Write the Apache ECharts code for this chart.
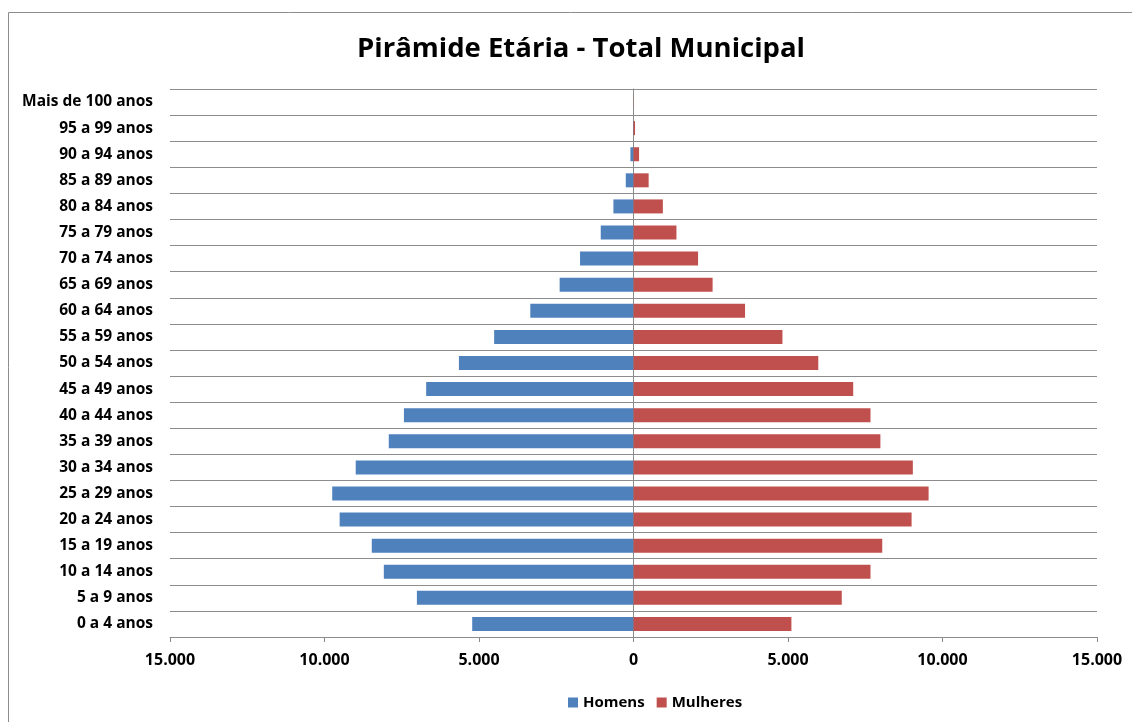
<!DOCTYPE html>
<html>
<head>
<meta charset="utf-8">
<script src="https://cdn.jsdelivr.net/npm/echarts@6/dist/echarts.min.js"></script>
<style>
  html, body { margin: 0; padding: 0; background: #fff; }
  #chart { width: 1132px; height: 722px; }
</style>
</head>
<body>
<div id="chart"></div>
<script>
// faixas etárias, de baixo para cima
var faixas = ['0 a 4 anos', '5 a 9 anos', '10 a 14 anos', '15 a 19 anos', '20 a 24 anos',
  '25 a 29 anos', '30 a 34 anos', '35 a 39 anos', '40 a 44 anos', '45 a 49 anos',
  '50 a 54 anos', '55 a 59 anos', '60 a 64 anos', '65 a 69 anos', '70 a 74 anos',
  '75 a 79 anos', '80 a 84 anos', '85 a 89 anos', '90 a 94 anos', '95 a 99 anos',
  'Mais de 100 anos']
// homens ficam negativos (lado esquerdo)
var homens = [-5220, -7010, -8080, -8470, -9510, -9750, -8990, -7920, -7430, -6710,
  -5650, -4510, -3340, -2390, -1730, -1060, -650, -250, -100, -15, 0]
var mulheres = [5110, 6740, 7670, 8050, 9000, 9550, 9040, 7990, 7670, 7110,
  5980, 4820, 3610, 2560, 2090, 1390, 950, 490, 180, 50, 5]
var ticksX = [-15000, -10000, -5000, 0, 5000, 10000, 15000]

var fonte = '"Open Sans", Lato, "Liberation Sans", sans-serif'

function fmt (v) {
  // 15.000 com ponto de milhar
  return Math.abs(v).toString().replace(/\B(?=(\d{3})+(?!\d))/g, '.')
}

var chart = echarts.init(document.getElementById('chart'))
chart.setOption({
  animation: false,
  textStyle: { fontFamily: fonte },
  graphic: [{
    type: 'rect',
    shape: { x: 8.5, y: 12.5, width: 1140, height: 730 },
    style: { fill: 'none', stroke: '#8c8c8c', lineWidth: 1 },
    silent: true
  }],
  title: {
    text: 'Pirâmide Etária - Total Municipal',
    left: 352,
    top: 30,
    textStyle: { fontFamily: fonte, fontWeight: 'bold', fontSize: 27.5, color: '#000' }
  },
  legend: {
    top: 690,
    left: 563,
    itemWidth: 10,
    itemHeight: 10,
    itemGap: 12,
    icon: 'rect',
    textStyle: { fontFamily: fonte, fontWeight: 'bold', fontSize: 15, color: '#000' },
    data: ['Homens', 'Mulheres']
  },
  grid: { left: 170, right: 35, top: 89, bottom: 85, containLabel: false },
  xAxis: {
    type: 'value',
    min: ticksX[0],
    max: ticksX[ticksX.length - 1],
    interval: 5000,
    axisLine: { show: true, lineStyle: { color: '#8c8c8c' } },
    axisTick: { show: true, length: 5, lineStyle: { color: '#8c8c8c' } },
    axisLabel: {
      margin: 15,
      fontFamily: fonte, fontWeight: 'bold', fontSize: 16, color: '#000',
      formatter: fmt
    },
    splitLine: { show: false }
  },
  yAxis: {
    type: 'category',
    data: faixas,
    axisLine: { show: true, onZero: true, lineStyle: { color: '#8c8c8c' } },
    axisTick: { show: true, length: 4, inside: false, lineStyle: { color: '#8c8c8c' } },
    axisLabel: {
      margin: 17,
      padding: [3, 0, 0, 0],
      fontFamily: fonte, fontWeight: 'bold', fontSize: 15.5, color: '#000'
    },
    splitLine: { show: true, lineStyle: { color: '#8c8c8c', width: 1 } }
  },
  series: [
    {
      name: 'Homens',
      type: 'bar',
      stack: 'pop',
      barWidth: 14,
      itemStyle: { color: '#4F81BD' },
      data: homens
    },
    {
      name: 'Mulheres',
      type: 'bar',
      stack: 'pop',
      barWidth: 14,
      itemStyle: { color: '#C0504D' },
      data: mulheres
    }
  ]
})
</script>
</body>
</html>
